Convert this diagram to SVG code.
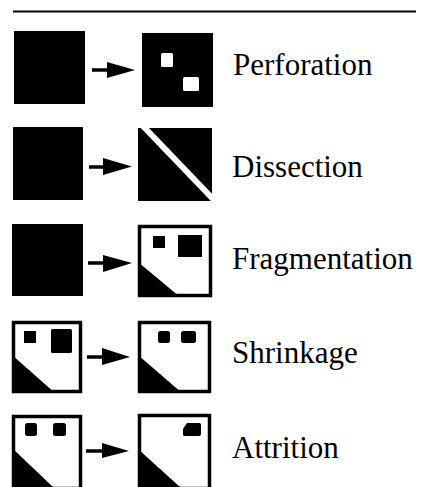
<svg xmlns="http://www.w3.org/2000/svg" width="421" height="487" viewBox="0 0 421 487">
  <defs>
    <style>
      .blk { fill: #000; }
      .wht { fill: #fff; }
      .frame { fill: #fff; stroke: #000; stroke-width: 3.5; }
      .shaft { stroke: #000; stroke-width: 3.5; fill: none; }
      .lbl { font-family: "Liberation Serif", "Times New Roman", serif; font-size: 31px; fill: #000; }
    </style>
  </defs>
  <rect x="0" y="0" width="421" height="487" fill="#fff"/>

  <!-- rule across the top -->
  <line x1="13" y1="11.5" x2="416" y2="11.5" stroke="#000" stroke-width="2"/>

  <!-- Perforation -->
  <g id="perforation">
    <rect class="blk" x="14" y="31" width="71" height="73"/>
    <rect class="blk" x="142" y="33" width="71" height="74"/>
    <rect class="wht" x="161" y="53" width="12" height="14" rx="1.5"/>
    <rect class="wht" x="183" y="77" width="16" height="14" rx="1.5"/>
    <text class="lbl" x="233" y="75">Perforation</text>
  </g>

  <!-- Dissection -->
  <g id="dissection">
    <rect class="blk" x="13" y="127" width="70" height="73"/>
    <rect class="blk" x="138" y="128" width="74" height="73"/>
    <line x1="142" y1="125" x2="214" y2="200" stroke="#fff" stroke-width="6"/>
    <text class="lbl" x="232" y="177">Dissection</text>
  </g>

  <!-- Fragmentation -->
  <g id="fragmentation">
    <rect class="blk" x="12" y="224" width="71" height="72"/>
    <rect class="frame" x="139.5" y="226.5" width="71" height="69"/>
    <rect class="blk" x="153" y="236" width="12" height="12"/>
    <rect class="blk" x="178" y="235" width="24" height="22"/>
    <polygon class="blk" points="138,262 180,297 138,297"/>
    <text class="lbl" x="232" y="269">Fragmentation</text>
  </g>

  <!-- Shrinkage -->
  <g id="shrinkage">
    <rect class="frame" x="13.5" y="322.5" width="67" height="69"/>
    <rect class="blk" x="24" y="331" width="12" height="12"/>
    <rect class="blk" x="51" y="329" width="21" height="24" rx="1.5"/>
    <polygon class="blk" points="12,355 55,393 12,393"/>
    <rect class="frame" x="139.5" y="322.5" width="70" height="69"/>
    <rect class="blk" x="158" y="331" width="12" height="12" rx="2.5"/>
    <rect class="blk" x="181" y="331" width="15" height="12" rx="2.5"/>
    <polygon class="blk" points="138,355 182,393 138,393"/>
    <text class="lbl" x="232" y="363">Shrinkage</text>
  </g>

  <!-- Attrition -->
  <g id="attrition">
    <rect class="frame" x="13.5" y="416.5" width="67" height="72"/>
    <rect class="blk" x="25" y="423" width="12" height="13" rx="2.5"/>
    <rect class="blk" x="53" y="423" width="13" height="13" rx="2.5"/>
    <polygon class="blk" points="12,448 53,487 12,487"/>
    <rect class="frame" x="139.5" y="415.5" width="70" height="73"/>
    <path class="blk" d="M187,423 L199,423 Q201,423 201,425 L201,434 Q201,436 199,436 L184,436 Q183,436 183,434 L183,429 Z"/>
    <polygon class="blk" points="138,449 180,487 138,487"/>
    <text class="lbl" x="232" y="458">Attrition</text>
  </g>

  <!-- arrows between the before and after shapes -->
  <g id="connectors">
    <line class="shaft" x1="92" y1="70" x2="110" y2="70"/>
    <polygon class="blk" points="107,62 135,70 107,78"/>
    <line class="shaft" x1="89" y1="167" x2="106" y2="167"/>
    <polygon class="blk" points="103,158 132,166.5 103,175"/>
    <line class="shaft" x1="88" y1="263" x2="106" y2="263"/>
    <polygon class="blk" points="103,255 132,263 103,272"/>
    <line class="shaft" x1="87" y1="357" x2="105" y2="357"/>
    <polygon class="blk" points="102,348 130,357 102,365"/>
    <line class="shaft" x1="86" y1="451" x2="105" y2="451"/>
    <polygon class="blk" points="102,443 129,451 102,458"/>
  </g>
</svg>
